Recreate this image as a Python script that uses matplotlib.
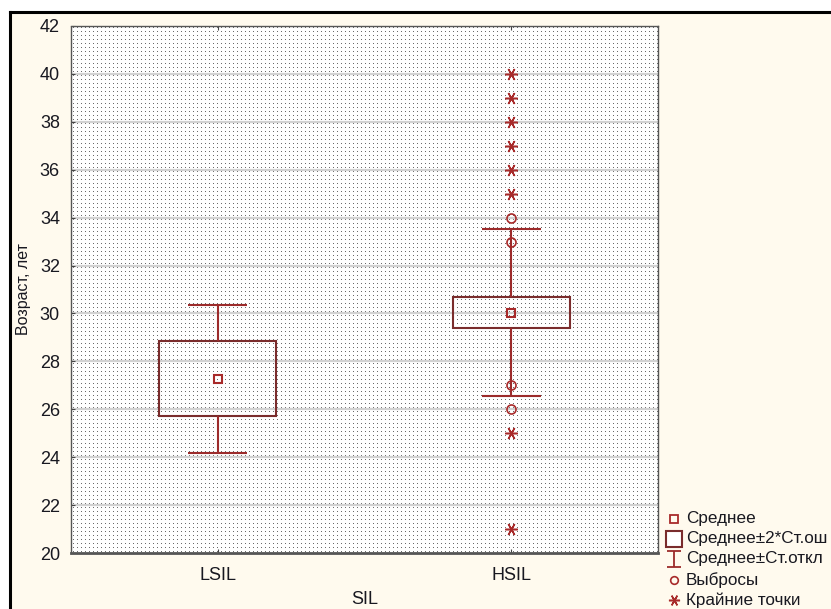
import numpy as np
import matplotlib
matplotlib.use("Agg")
import matplotlib.pyplot as plt
from matplotlib.lines import Line2D
from matplotlib.path import Path
from matplotlib.patches import Rectangle

# ---- data ----
groups = ["LSIL", "HSIL"]
means = [27.27, 30.03]
se2_lo = [25.71, 29.41]   # mean - 2*SE
se2_hi = [28.85, 30.70]   # mean + 2*SE
sd_lo = [24.18, 26.55]    # mean - SD
sd_hi = [30.36, 33.53]    # mean + SD
outlier_group = ["HSIL", "HSIL", "HSIL", "HSIL"]
outlier_vals = [34, 33, 27, 26]
extreme_group = ["HSIL"] * 8
extreme_vals = [40, 39, 38, 37, 36, 35, 25, 21]
yticks = [20, 22, 24, 26, 28, 30, 32, 34, 36, 38, 40, 42]
legend_labels = ["Среднее", "Среднее±2*Ст.ош", "Среднее±Ст.откл", "Выбросы", "Крайние точки"]

plt.rcParams['font.family'] = ['Liberation Sans', 'DejaVu Sans']

W, H, DPI = 831, 609, 100
fig = plt.figure(figsize=(W / DPI, H / DPI), dpi=DPI, facecolor='white')

# cream background with black left/top border
bg_color = '#fffaee'
fig.patches.append(Rectangle((10 / W, 0), 1 - 10 / W, 1 - 12 / H, transform=fig.transFigure,
                             facecolor=bg_color, edgecolor='none', zorder=-10))
fig.add_artist(Line2D([10 / W, 10 / W], [0, 1 - 12 / H], transform=fig.transFigure, color='black', lw=2.2))
fig.add_artist(Line2D([10 / W, 1], [1 - 12 / H, 1 - 12 / H], transform=fig.transFigure, color='black', lw=2.2))

ax_l, ax_r, ax_t, ax_b = 71, 658, 26, 553
ax = fig.add_axes([ax_l / W, (H - ax_b) / H, (ax_r - ax_l) / W, (ax_b - ax_t) / H])
ax.set_facecolor('white')

# dotted background texture
pw, ph = ax_r - ax_l, ax_b - ax_t
tex = np.ones((ph, pw, 3))
tex[1::4, 2::4] = 0.42
ax.imshow(tex, extent=[0.5, 2.5, 20, 42], aspect='auto', interpolation='nearest', zorder=0)

ax.set_xlim(0.5, 2.5)
ax.set_ylim(20, 42)
ax.set_yticks(yticks)
x = np.arange(1, len(groups) + 1)
ax.set_xticks(x)
ax.set_xticklabels(groups)
for yv in yticks[1:-1]:
    ax.axhline(yv, color='#d2d2d2', lw=1.6, zorder=0.5)

box_c = '#7a2c2c'
wh_c = '#9c2b2b'
mk_c = '#a82a2a'

# boxes (mean ± 2SE)
ax.bar(x, np.array(se2_hi) - np.array(se2_lo), bottom=se2_lo, width=0.4,
       fill=False, edgecolor=box_c, lw=1.5, zorder=3)
# whiskers (mean ± SD)
ax.vlines(x, se2_hi, sd_hi, color=wh_c, lw=1.5, zorder=3)
ax.vlines(x, sd_lo, se2_lo, color=wh_c, lw=1.5, zorder=3)
ax.hlines(sd_hi, x - 0.1, x + 0.1, color=wh_c, lw=1.5, zorder=3)
ax.hlines(sd_lo, x - 0.1, x + 0.1, color=wh_c, lw=1.5, zorder=3)
# means
ax.plot(x, means, ls='none', marker='s', ms=6, mfc='none', mec=mk_c, mew=1.5, zorder=4)

gpos = {g: i + 1 for i, g in enumerate(groups)}
ax.plot([gpos[g] for g in outlier_group], outlier_vals, ls='none', marker='o', ms=6.5,
        mfc='none', mec=mk_c, mew=1.2, zorder=4)
ast = (6, 2, 30)
ax.plot([gpos[g] for g in extreme_group], extreme_vals, ls='none', marker=ast, ms=9,
        mfc='none', mec=mk_c, mew=1.1, zorder=4)

txt_c = '#181820'
ax.tick_params(axis='both', direction='in', length=3, colors='#444444', labelcolor=txt_c,
               labelsize=13, top=True, right=False)
ax.tick_params(axis='y', pad=8)
ax.tick_params(axis='x', pad=10)
for s in ['top', 'left']:
    ax.spines[s].set_linestyle((0, (3, 1)))
    ax.spines[s].set_color('#555555')
    ax.spines[s].set_linewidth(1.0)
ax.spines['right'].set_color('#555555')
ax.spines['right'].set_linewidth(1.0)
ax.spines['bottom'].set_color('#555555')
ax.spines['bottom'].set_linewidth(2.0)
for s in ax.spines.values():
    s.set_zorder(5)

ax.set_ylabel("Возраст, лет", fontsize=11.5, color=txt_c, labelpad=6)
fig.text((ax_l + ax_r) / 2 / W, 1 - 600 / H, "SIL", ha='center', va='center', fontsize=13, color=txt_c)

# legend (manual, in pixel overlay)
ov = fig.add_axes([0, 0, 1, 1], facecolor='none')
ov.set_xlim(0, W)
ov.set_ylim(H, 0)
ov.axis('off')
rows = [519, 539, 559, 580, 600]
mx, tx = 674, 686
ibeam = Path([(-0.9, 1), (0.9, 1), (0, 1), (0, -1), (-0.9, -1), (0.9, -1)],
             [Path.MOVETO, Path.LINETO, Path.MOVETO, Path.LINETO, Path.MOVETO, Path.LINETO])
handles = [
    dict(marker='s', ms=5.5, mfc='none', mec=mk_c, mew=1.3),
    dict(marker='s', ms=11, mfc='white', mec=box_c, mew=1.5),
    dict(marker=ibeam, ms=11, mfc='none', mec=wh_c, mew=1.3),
    dict(marker='o', ms=5.5, mfc='none', mec=mk_c, mew=1.2),
    dict(marker=ast, ms=8, mfc='none', mec=mk_c, mew=1.1),
]
for yy, lab, h in zip(rows, legend_labels, handles):
    ov.plot([mx], [yy], ls='none', **h)
    ov.text(tx, yy, lab, ha='left', va='center', fontsize=12.3, color=txt_c)

fig.savefig("out.png", dpi=DPI, facecolor='white')
